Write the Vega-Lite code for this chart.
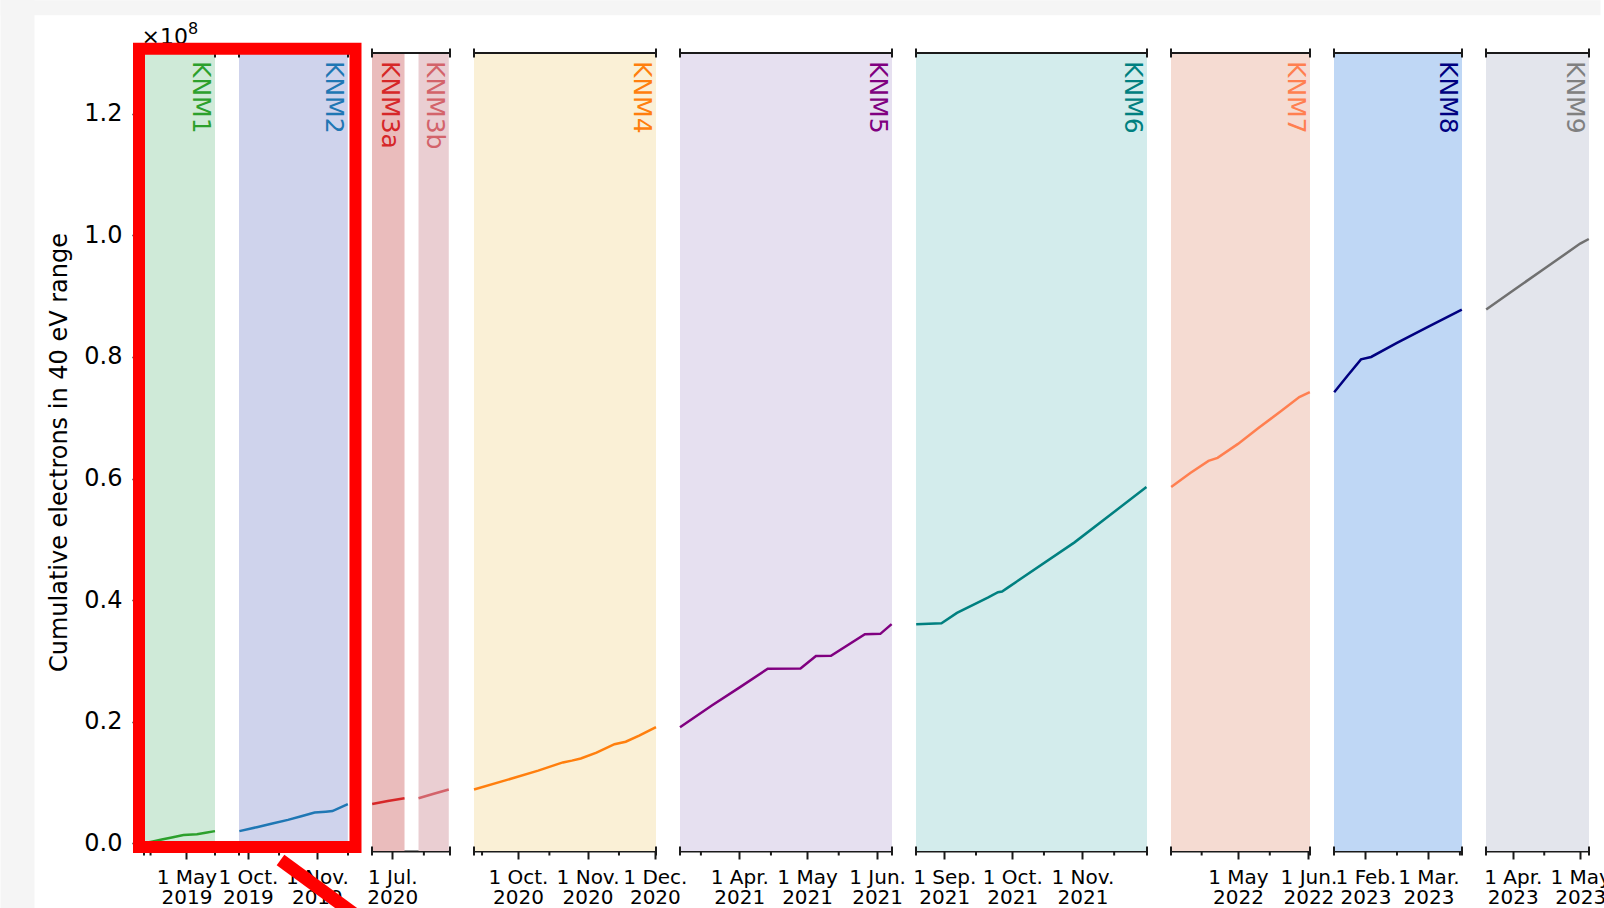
{
"$schema": "https://vega.github.io/schema/vega-lite/v6.json",
"background": "white",
"padding": 0,
"spacing": 24,
"bounds": "flush",
"datasets": {"d": [
{"kind":"shade","panel":"P1","run":"KNM1","t":"2019-04-12T02:00:00","t2":"2019-05-13T17:00:00"},
{"kind":"edge","panel":"P1","t":"2019-04-12T02:00:00"},
{"kind":"edge","panel":"P1","t":"2019-05-13T17:00:00"},
{"kind":"minor","panel":"P1","t":"2019-04-15T00:00:00"},
{"kind":"cum","panel":"P1","run":"KNM1","t":"2019-04-12T02:00:00","n":0},
{"kind":"cum","panel":"P1","run":"KNM1","t":"2019-04-16T00:00:00","n":300000},
{"kind":"cum","panel":"P1","run":"KNM1","t":"2019-04-20T00:00:00","n":620000},
{"kind":"cum","panel":"P1","run":"KNM1","t":"2019-04-25T00:00:00","n":1000000},
{"kind":"cum","panel":"P1","run":"KNM1","t":"2019-04-29T16:00:00","n":1350000},
{"kind":"cum","panel":"P1","run":"KNM1","t":"2019-05-05T16:00:00","n":1480000},
{"kind":"cum","panel":"P1","run":"KNM1","t":"2019-05-09T12:00:00","n":1720000},
{"kind":"cum","panel":"P1","run":"KNM1","t":"2019-05-13T17:00:00","n":2000000},
{"kind":"shade","panel":"P2","run":"KNM2","t":"2019-09-27T00:00:00","t2":"2019-11-14T22:00:00"},
{"kind":"edge","panel":"P2","t":"2019-09-27T00:00:00"},
{"kind":"edge","panel":"P2","t":"2019-11-15T00:00:00"},
{"kind":"minor","panel":"P2","t":"2019-10-15T00:00:00"},
{"kind":"cum","panel":"P2","run":"KNM2","t":"2019-09-27T04:00:00","n":2000000},
{"kind":"cum","panel":"P2","run":"KNM2","t":"2019-10-05T00:00:00","n":2650000},
{"kind":"cum","panel":"P2","run":"KNM2","t":"2019-10-12T00:00:00","n":3250000},
{"kind":"cum","panel":"P2","run":"KNM2","t":"2019-10-19T00:00:00","n":3850000},
{"kind":"cum","panel":"P2","run":"KNM2","t":"2019-10-25T00:00:00","n":4450000},
{"kind":"cum","panel":"P2","run":"KNM2","t":"2019-10-31T00:00:00","n":5050000},
{"kind":"cum","panel":"P2","run":"KNM2","t":"2019-11-05T00:00:00","n":5200000},
{"kind":"cum","panel":"P2","run":"KNM2","t":"2019-11-08T00:00:00","n":5300000},
{"kind":"cum","panel":"P2","run":"KNM2","t":"2019-11-14T22:00:00","n":6450000},
{"kind":"shade","panel":"P3","run":"KNM3a","t":"2020-06-22T00:00:00","t2":"2020-07-06T10:00:00"},
{"kind":"shade","panel":"P3","run":"KNM3b","t":"2020-07-12T15:00:00","t2":"2020-07-26T01:00:00"},
{"kind":"edge","panel":"P3","t":"2020-06-22T00:00:00"},
{"kind":"edge","panel":"P3","t":"2020-07-26T14:00:00"},
{"kind":"minor","panel":"P3","t":"2020-07-15T00:00:00"},
{"kind":"cum","panel":"P3","run":"KNM3a","t":"2020-06-22T02:00:00","n":6450000},
{"kind":"cum","panel":"P3","run":"KNM3a","t":"2020-06-29T00:00:00","n":6950000},
{"kind":"cum","panel":"P3","run":"KNM3a","t":"2020-07-06T10:00:00","n":7400000},
{"kind":"cum","panel":"P3","run":"KNM3b","t":"2020-07-12T15:00:00","n":7400000},
{"kind":"cum","panel":"P3","run":"KNM3b","t":"2020-07-19T00:00:00","n":8100000},
{"kind":"cum","panel":"P3","run":"KNM3b","t":"2020-07-26T01:00:00","n":8850000},
{"kind":"shade","panel":"P4","run":"KNM4","t":"2020-09-11T10:00:00","t2":"2020-12-01T12:00:00"},
{"kind":"edge","panel":"P4","t":"2020-09-11T10:00:00"},
{"kind":"edge","panel":"P4","t":"2020-12-01T12:00:00"},
{"kind":"minor","panel":"P4","t":"2020-09-15T00:00:00"},
{"kind":"minor","panel":"P4","t":"2020-10-15T00:00:00"},
{"kind":"minor","panel":"P4","t":"2020-11-15T00:00:00"},
{"kind":"cum","panel":"P4","run":"KNM4","t":"2020-09-11T10:00:00","n":8850000},
{"kind":"cum","panel":"P4","run":"KNM4","t":"2020-09-25T00:00:00","n":10300000},
{"kind":"cum","panel":"P4","run":"KNM4","t":"2020-10-10T00:00:00","n":11950000},
{"kind":"cum","panel":"P4","run":"KNM4","t":"2020-10-21T00:00:00","n":13300000},
{"kind":"cum","panel":"P4","run":"KNM4","t":"2020-10-25T00:00:00","n":13600000},
{"kind":"cum","panel":"P4","run":"KNM4","t":"2020-10-29T00:00:00","n":13950000},
{"kind":"cum","panel":"P4","run":"KNM4","t":"2020-11-05T00:00:00","n":14900000},
{"kind":"cum","panel":"P4","run":"KNM4","t":"2020-11-13T00:00:00","n":16300000},
{"kind":"cum","panel":"P4","run":"KNM4","t":"2020-11-18T00:00:00","n":16700000},
{"kind":"cum","panel":"P4","run":"KNM4","t":"2020-11-24T00:00:00","n":17700000},
{"kind":"cum","panel":"P4","run":"KNM4","t":"2020-12-01T12:00:00","n":19100000},
{"kind":"shade","panel":"P5","run":"KNM5","t":"2021-03-05T18:00:00","t2":"2021-06-07T14:00:00"},
{"kind":"edge","panel":"P5","t":"2021-03-05T18:00:00"},
{"kind":"edge","panel":"P5","t":"2021-06-07T14:00:00"},
{"kind":"minor","panel":"P5","t":"2021-03-15T00:00:00"},
{"kind":"minor","panel":"P5","t":"2021-04-15T00:00:00"},
{"kind":"minor","panel":"P5","t":"2021-05-15T00:00:00"},
{"kind":"cum","panel":"P5","run":"KNM5","t":"2021-03-05T18:00:00","n":19100000},
{"kind":"cum","panel":"P5","run":"KNM5","t":"2021-03-20T00:00:00","n":22700000},
{"kind":"cum","panel":"P5","run":"KNM5","t":"2021-04-01T00:00:00","n":25600000},
{"kind":"cum","panel":"P5","run":"KNM5","t":"2021-04-13T14:00:00","n":28700000},
{"kind":"cum","panel":"P5","run":"KNM5","t":"2021-04-28T02:00:00","n":28750000},
{"kind":"cum","panel":"P5","run":"KNM5","t":"2021-05-04T22:00:00","n":30800000},
{"kind":"cum","panel":"P5","run":"KNM5","t":"2021-05-11T14:00:00","n":30850000},
{"kind":"cum","panel":"P5","run":"KNM5","t":"2021-05-26T14:00:00","n":34400000},
{"kind":"cum","panel":"P5","run":"KNM5","t":"2021-06-02T10:00:00","n":34450000},
{"kind":"cum","panel":"P5","run":"KNM5","t":"2021-06-07T10:00:00","n":36050000},
{"kind":"shade","panel":"P6","run":"KNM6","t":"2021-08-19T12:00:00","t2":"2021-11-29T12:00:00"},
{"kind":"edge","panel":"P6","t":"2021-08-19T12:00:00"},
{"kind":"edge","panel":"P6","t":"2021-11-29T12:00:00"},
{"kind":"minor","panel":"P6","t":"2021-09-15T00:00:00"},
{"kind":"minor","panel":"P6","t":"2021-10-15T00:00:00"},
{"kind":"minor","panel":"P6","t":"2021-11-15T00:00:00"},
{"kind":"cum","panel":"P6","run":"KNM6","t":"2021-08-19T14:00:00","n":36050000},
{"kind":"cum","panel":"P6","run":"KNM6","t":"2021-08-30T18:00:00","n":36200000},
{"kind":"cum","panel":"P6","run":"KNM6","t":"2021-09-06T14:00:00","n":37900000},
{"kind":"cum","panel":"P6","run":"KNM6","t":"2021-09-20T05:00:00","n":40400000},
{"kind":"cum","panel":"P6","run":"KNM6","t":"2021-09-24T17:00:00","n":41300000},
{"kind":"cum","panel":"P6","run":"KNM6","t":"2021-09-26T12:00:00","n":41400000},
{"kind":"cum","panel":"P6","run":"KNM6","t":"2021-09-29T05:00:00","n":42100000},
{"kind":"cum","panel":"P6","run":"KNM6","t":"2021-10-28T12:00:00","n":49500000},
{"kind":"cum","panel":"P6","run":"KNM6","t":"2021-11-29T06:00:00","n":58600000},
{"kind":"shade","panel":"P7","run":"KNM7","t":"2022-04-01T12:00:00","t2":"2022-06-01T17:00:00"},
{"kind":"edge","panel":"P7","t":"2022-04-01T12:00:00"},
{"kind":"edge","panel":"P7","t":"2022-06-01T17:00:00"},
{"kind":"minor","panel":"P7","t":"2022-04-15T00:00:00"},
{"kind":"minor","panel":"P7","t":"2022-05-15T00:00:00"},
{"kind":"cum","panel":"P7","run":"KNM7","t":"2022-04-01T14:00:00","n":58600000},
{"kind":"cum","panel":"P7","run":"KNM7","t":"2022-04-10T00:00:00","n":60900000},
{"kind":"cum","panel":"P7","run":"KNM7","t":"2022-04-18T00:00:00","n":62900000},
{"kind":"cum","panel":"P7","run":"KNM7","t":"2022-04-22T00:00:00","n":63400000},
{"kind":"cum","panel":"P7","run":"KNM7","t":"2022-05-01T00:00:00","n":65700000},
{"kind":"cum","panel":"P7","run":"KNM7","t":"2022-05-10T00:00:00","n":68300000},
{"kind":"cum","panel":"P7","run":"KNM7","t":"2022-05-20T00:00:00","n":71100000},
{"kind":"cum","panel":"P7","run":"KNM7","t":"2022-05-28T00:00:00","n":73400000},
{"kind":"cum","panel":"P7","run":"KNM7","t":"2022-06-01T15:00:00","n":74200000},
{"kind":"shade","panel":"P8","run":"KNM8","t":"2023-01-18T00:00:00","t2":"2023-03-15T22:00:00"},
{"kind":"edge","panel":"P8","t":"2023-01-18T00:00:00"},
{"kind":"edge","panel":"P8","t":"2023-03-15T22:00:00"},
{"kind":"minor","panel":"P8","t":"2023-02-15T00:00:00"},
{"kind":"minor","panel":"P8","t":"2023-03-15T00:00:00"},
{"kind":"cum","panel":"P8","run":"KNM8","t":"2023-01-18T02:00:00","n":74200000},
{"kind":"cum","panel":"P8","run":"KNM8","t":"2023-01-24T00:00:00","n":76900000},
{"kind":"cum","panel":"P8","run":"KNM8","t":"2023-01-30T00:00:00","n":79600000},
{"kind":"cum","panel":"P8","run":"KNM8","t":"2023-02-03T12:00:00","n":80000000},
{"kind":"cum","panel":"P8","run":"KNM8","t":"2023-02-15T00:00:00","n":82300000},
{"kind":"cum","panel":"P8","run":"KNM8","t":"2023-03-01T00:00:00","n":85000000},
{"kind":"cum","panel":"P8","run":"KNM8","t":"2023-03-15T20:00:00","n":87800000},
{"kind":"shade","panel":"P9","run":"KNM9","t":"2023-03-20T02:00:00","t2":"2023-05-04T22:00:00"},
{"kind":"edge","panel":"P9","t":"2023-03-20T02:00:00"},
{"kind":"edge","panel":"P9","t":"2023-05-04T22:00:00"},
{"kind":"minor","panel":"P9","t":"2023-04-15T00:00:00"},
{"kind":"cum","panel":"P9","run":"KNM9","t":"2023-03-20T04:00:00","n":87800000},
{"kind":"cum","panel":"P9","run":"KNM9","t":"2023-04-01T00:00:00","n":90900000},
{"kind":"cum","panel":"P9","run":"KNM9","t":"2023-04-15T00:00:00","n":94500000},
{"kind":"cum","panel":"P9","run":"KNM9","t":"2023-05-01T00:00:00","n":98650000},
{"kind":"cum","panel":"P9","run":"KNM9","t":"2023-05-04T20:00:00","n":99400000}
]},
"config": {
"font": "DejaVu Sans",
"view": {"stroke": null},
"axisX": {"domainColor": "#1a1a1a", "domainWidth": 2, "tickColor": "#1a1a1a", "tickWidth": 2, "tickSize": 8, "labelFontSize": 20, "labelColor": "#000000", "labelPadding": 8, "labelLineHeight": 20, "labelOverlap": false, "labelBound": false, "labelFlush": false, "labelAngle": 0, "grid": false},
"axisY": {"labelFontSize": 24, "labelColor": "#000000", "titleFontSize": 24, "titleFontWeight": "normal", "titleColor": "#000000", "tickColor": "#000000", "tickWidth": 1.5, "grid": false}
},
"hconcat": [
{
"width": 71, "height": 798,
"data": {"name": "d"},
"transform": [{"filter": "datum.panel == 'P1'"}],
"layer": [
{"data": {"values": [{"panel": "P1"}]}, "mark": {"type": "rect", "color": "#f5f5f5"}, "encoding": {"x": {"datum": {"year":2019,"month":2,"date":7,"hours":3,"minutes":58}, "type": "temporal"}, "x2": {"datum": {"year":2019,"month":2,"date":22,"hours":7,"minutes":25}}, "y": {"datum": 138669000, "type": "quantitative"}, "y2": {"datum": -10646400}}},
{"data": {"values": [{"panel": "P1"}]}, "mark": {"type": "rect", "color": "#f5f5f5"}, "encoding": {"x": {"datum": {"year":2019,"month":2,"date":7,"hours":3,"minutes":58}, "type": "temporal"}, "x2": {"datum": {"year":2021,"month":1,"date":19,"hours":20,"minutes":14}}, "y": {"datum": 138669000, "type": "quantitative"}, "y2": {"datum": 136201600}}},
{"transform": [{"filter": "datum.kind == 'shade'"}], "mark": {"type": "rect", "color": "#cfead8"}, "encoding": {
 "x": {"field": "t", "type": "temporal", "scale": {"domain": [{"year":2019,"month":4,"date":12,"hours":2},{"year":2019,"month":5,"date":13,"hours":17}], "nice": false}, "axis": {"title": null, "values": [{"year":2019,"month":5,"date":1}], "labelExpr": "[timeFormat(datum.value, '%-d ') + (month(datum.value) == 4 ? 'May' : timeFormat(datum.value, '%b') + '.'), timeFormat(datum.value, '%Y')]"}},
 "x2": {"field": "t2"},
 "y": {"datum": 130000000, "type": "quantitative", "scale": {"domain": [-1270000, 130000000], "nice": false, "zero": false}},
 "y2": {"datum": -1270000}}},
{"transform": [{"filter": "datum.kind == 'cum'"}], "mark": {"type": "line", "color": "#2ca02c", "strokeWidth": 2.5}, "encoding": {
 "x": {"field": "t", "type": "temporal", "scale": {"domain": [{"year":2019,"month":4,"date":12,"hours":2},{"year":2019,"month":5,"date":13,"hours":17}], "nice": false}, "axis": {"title": null, "values": [{"year":2019,"month":5,"date":1}], "labelExpr": "[timeFormat(datum.value, '%-d ') + (month(datum.value) == 4 ? 'May' : timeFormat(datum.value, '%b') + '.'), timeFormat(datum.value, '%Y')]"}},
 "y": {"field": "n", "type": "quantitative", "scale": {"domain": [-1270000, 130000000], "nice": false, "zero": false}, "axis": {"title": "Cumulative electrons in 40 eV range", "values": [0,20000000,40000000,60000000,80000000,100000000,120000000], "labelExpr": "format(datum.value / 100000000, '.1f')", "tickSize": 12, "labelPadding": 10, "titlePadding": 12.5, "domain": false}}}},
{"transform": [{"filter": "datum.kind == 'shade'"}], "mark": {"type": "text", "angle": 90, "align": "left", "baseline": "top", "dx": 8, "dy": 2.2, "fontSize": 25, "color": "#2ca02c"}, "encoding": {"x": {"field": "t2", "type": "temporal"}, "y": {"datum": 130000000, "type": "quantitative"}, "text": {"field": "run"}}},
{"transform": [{"filter": "datum.kind == 'edge'"}], "mark": {"type": "line", "color": "#1a1a1a", "strokeWidth": 2}, "encoding": {"x": {"field": "t", "type": "temporal"}, "y": {"datum": 130000000, "type": "quantitative"}}},
{"transform": [{"filter": "datum.kind == 'edge'"}], "mark": {"type": "tick", "orient": "vertical", "size": 9, "thickness": 2, "color": "#1a1a1a", "opacity": 1}, "encoding": {"x": {"field": "t", "type": "temporal"}, "y": {"datum": 130000000, "type": "quantitative"}}},
{"transform": [{"filter": "datum.kind == 'edge'"}], "mark": {"type": "tick", "orient": "vertical", "size": 9, "thickness": 2, "color": "#1a1a1a", "opacity": 1}, "encoding": {"x": {"field": "t", "type": "temporal"}, "y": {"datum": -1270000, "type": "quantitative"}}},
{"transform": [{"filter": "datum.kind == 'minor'"}], "mark": {"type": "tick", "orient": "vertical", "size": 4.5, "thickness": 2, "color": "#1a1a1a", "opacity": 1}, "encoding": {"x": {"field": "t", "type": "temporal"}, "y": {"datum": -1640000, "type": "quantitative"}}},
{"data": {"values": [{"panel": "P1"}]}, "mark": {"type": "text", "align": "left", "baseline": "alphabetic", "dx": -2.5, "dy": -9.4, "fontSize": 22, "color": "#000000"}, "encoding": {"x": {"datum": {"year":2019,"month":4,"date":12,"hours":2}, "type": "temporal"}, "y": {"datum": 130000000, "type": "quantitative"}, "text": {"value": "×10"}}},
{"data": {"values": [{"panel": "P1"}]}, "mark": {"type": "text", "align": "left", "baseline": "alphabetic", "dx": 44, "dy": -19.4, "fontSize": 16, "color": "#000000"}, "encoding": {"x": {"datum": {"year":2019,"month":4,"date":12,"hours":2}, "type": "temporal"}, "y": {"datum": 130000000, "type": "quantitative"}, "text": {"value": "8"}}}
]
},
{
"width": 109, "height": 798,
"data": {"name": "d"},
"transform": [{"filter": "datum.panel == 'P2'"}],
"layer": [
{"transform": [{"filter": "datum.kind == 'shade'"}], "mark": {"type": "rect", "color": "#cfd3ec"}, "encoding": {
 "x": {"field": "t", "type": "temporal", "scale": {"domain": [{"year":2019,"month":9,"date":27},{"year":2019,"month":11,"date":15}], "nice": false}, "axis": {"title": null, "values": [{"year":2019,"month":10,"date":1},{"year":2019,"month":11,"date":1}], "labelExpr": "[timeFormat(datum.value, '%-d ') + (month(datum.value) == 4 ? 'May' : timeFormat(datum.value, '%b') + '.'), timeFormat(datum.value, '%Y')]"}},
 "x2": {"field": "t2"},
 "y": {"datum": 130000000, "type": "quantitative", "scale": {"domain": [-1270000, 130000000], "nice": false, "zero": false}, "axis": null},
 "y2": {"datum": -1270000}}},
{"transform": [{"filter": "datum.kind == 'cum'"}], "mark": {"type": "line", "color": "#1f77b4", "strokeWidth": 2.5}, "encoding": {
 "x": {"field": "t", "type": "temporal", "scale": {"domain": [{"year":2019,"month":9,"date":27},{"year":2019,"month":11,"date":15}], "nice": false}, "axis": {"title": null, "values": [{"year":2019,"month":10,"date":1},{"year":2019,"month":11,"date":1}], "labelExpr": "[timeFormat(datum.value, '%-d ') + (month(datum.value) == 4 ? 'May' : timeFormat(datum.value, '%b') + '.'), timeFormat(datum.value, '%Y')]"}},
 "y": {"field": "n", "type": "quantitative", "scale": {"domain": [-1270000, 130000000], "nice": false, "zero": false}, "axis": null}}},
{"transform": [{"filter": "datum.kind == 'shade'"}], "mark": {"type": "text", "angle": 90, "align": "left", "baseline": "top", "dx": 8, "dy": 2.2, "fontSize": 25, "color": "#1f77b4"}, "encoding": {"x": {"field": "t2", "type": "temporal"}, "y": {"datum": 130000000, "type": "quantitative"}, "text": {"field": "run"}}},
{"transform": [{"filter": "datum.kind == 'edge'"}], "mark": {"type": "line", "color": "#1a1a1a", "strokeWidth": 2}, "encoding": {"x": {"field": "t", "type": "temporal"}, "y": {"datum": 130000000, "type": "quantitative"}}},
{"transform": [{"filter": "datum.kind == 'edge'"}], "mark": {"type": "tick", "orient": "vertical", "size": 9, "thickness": 2, "color": "#1a1a1a", "opacity": 1}, "encoding": {"x": {"field": "t", "type": "temporal"}, "y": {"datum": 130000000, "type": "quantitative"}}},
{"transform": [{"filter": "datum.kind == 'edge'"}], "mark": {"type": "tick", "orient": "vertical", "size": 9, "thickness": 2, "color": "#1a1a1a", "opacity": 1}, "encoding": {"x": {"field": "t", "type": "temporal"}, "y": {"datum": -1270000, "type": "quantitative"}}},
{"transform": [{"filter": "datum.kind == 'minor'"}], "mark": {"type": "tick", "orient": "vertical", "size": 4.5, "thickness": 2, "color": "#1a1a1a", "opacity": 1}, "encoding": {"x": {"field": "t", "type": "temporal"}, "y": {"datum": -1640000, "type": "quantitative"}}}
]
},
{
"width": 78, "height": 798,
"data": {"name": "d"},
"transform": [{"filter": "datum.panel == 'P3'"}],
"layer": [
{"transform": [{"filter": "datum.kind == 'shade'"}], "mark": {"type": "rect"}, "encoding": {
 "x": {"field": "t", "type": "temporal", "scale": {"domain": [{"year":2020,"month":6,"date":22},{"year":2020,"month":7,"date":26,"hours":14}], "nice": false}, "axis": {"title": null, "values": [{"year":2020,"month":7,"date":1}], "labelExpr": "[timeFormat(datum.value, '%-d ') + (month(datum.value) == 4 ? 'May' : timeFormat(datum.value, '%b') + '.'), timeFormat(datum.value, '%Y')]"}},
 "x2": {"field": "t2"},
 "y": {"datum": 130000000, "type": "quantitative", "scale": {"domain": [-1270000, 130000000], "nice": false, "zero": false}, "axis": null},
 "y2": {"datum": -1270000},
 "color": {"field": "run", "type": "nominal", "scale": {"domain": ["KNM3a","KNM3b"], "range": ["#eabcbc","#eaced2"]}, "legend": null}}},
{"transform": [{"filter": "datum.kind == 'cum'"}], "mark": {"type": "line", "strokeWidth": 2.5}, "encoding": {
 "x": {"field": "t", "type": "temporal", "scale": {"domain": [{"year":2020,"month":6,"date":22},{"year":2020,"month":7,"date":26,"hours":14}], "nice": false}, "axis": {"title": null, "values": [{"year":2020,"month":7,"date":1}], "labelExpr": "[timeFormat(datum.value, '%-d ') + (month(datum.value) == 4 ? 'May' : timeFormat(datum.value, '%b') + '.'), timeFormat(datum.value, '%Y')]"}},
 "y": {"field": "n", "type": "quantitative", "scale": {"domain": [-1270000, 130000000], "nice": false, "zero": false}, "axis": null},
 "stroke": {"field": "run", "type": "nominal", "scale": {"domain": ["KNM3a","KNM3b"], "range": ["#d62728","#d3636a"]}, "legend": null}}},
{"transform": [{"filter": "datum.kind == 'shade'"}], "mark": {"type": "text", "angle": 90, "align": "left", "baseline": "top", "dx": 8, "dy": 2.2, "fontSize": 25}, "encoding": {"x": {"field": "t2", "type": "temporal"}, "y": {"datum": 130000000, "type": "quantitative"}, "text": {"field": "run"}, "fill": {"field": "run", "type": "nominal", "scale": {"domain": ["KNM3a","KNM3b"], "range": ["#d62728","#d3636a"]}, "legend": null}}},
{"transform": [{"filter": "datum.kind == 'edge'"}], "mark": {"type": "line", "color": "#1a1a1a", "strokeWidth": 2}, "encoding": {"x": {"field": "t", "type": "temporal"}, "y": {"datum": 130000000, "type": "quantitative"}}},
{"transform": [{"filter": "datum.kind == 'edge'"}], "mark": {"type": "tick", "orient": "vertical", "size": 9, "thickness": 2, "color": "#1a1a1a", "opacity": 1}, "encoding": {"x": {"field": "t", "type": "temporal"}, "y": {"datum": 130000000, "type": "quantitative"}}},
{"transform": [{"filter": "datum.kind == 'edge'"}], "mark": {"type": "tick", "orient": "vertical", "size": 9, "thickness": 2, "color": "#1a1a1a", "opacity": 1}, "encoding": {"x": {"field": "t", "type": "temporal"}, "y": {"datum": -1270000, "type": "quantitative"}}},
{"transform": [{"filter": "datum.kind == 'minor'"}], "mark": {"type": "tick", "orient": "vertical", "size": 4.5, "thickness": 2, "color": "#1a1a1a", "opacity": 1}, "encoding": {"x": {"field": "t", "type": "temporal"}, "y": {"datum": -1640000, "type": "quantitative"}}},
{"data": {"values": [{"panel": "P3"}]}, "mark": {"type": "rect", "fill": "transparent", "stroke": "#ff0000", "strokeWidth": 12}, "encoding": {"x": {"datum": {"year":2020,"month":3,"date":10,"hours":16,"minutes":38}, "type": "temporal"}, "x2": {"datum": {"year":2020,"month":6,"date":14,"hours":16,"minutes":25}}, "y": {"datum": 130690900, "type": "quantitative"}, "y2": {"datum": -612000}}},
{"data": {"values": [{"panel": "P3"}]}, "mark": {"type": "rule", "color": "#ff0000", "strokeWidth": 13, "strokeCap": "butt"}, "encoding": {"x": {"datum": {"year":2020,"month":5,"date":12,"hours":10,"minutes":20}, "type": "temporal"}, "x2": {"datum": {"year":2020,"month":6,"date":17,"hours":18,"minutes":55}}, "y": {"datum": -2750500, "type": "quantitative"}, "y2": {"datum": -12604000}}}
]
},
{
"width": 182, "height": 798,
"data": {"name": "d"},
"transform": [{"filter": "datum.panel == 'P4'"}],
"layer": [
{"transform": [{"filter": "datum.kind == 'shade'"}], "mark": {"type": "rect", "color": "#faf0d6"}, "encoding": {
 "x": {"field": "t", "type": "temporal", "scale": {"domain": [{"year":2020,"month":9,"date":11,"hours":10},{"year":2020,"month":12,"date":1,"hours":12}], "nice": false}, "axis": {"title": null, "values": [{"year":2020,"month":10,"date":1},{"year":2020,"month":11,"date":1},{"year":2020,"month":12,"date":1}], "labelExpr": "[timeFormat(datum.value, '%-d ') + (month(datum.value) == 4 ? 'May' : timeFormat(datum.value, '%b') + '.'), timeFormat(datum.value, '%Y')]"}},
 "x2": {"field": "t2"},
 "y": {"datum": 130000000, "type": "quantitative", "scale": {"domain": [-1270000, 130000000], "nice": false, "zero": false}, "axis": null},
 "y2": {"datum": -1270000}}},
{"transform": [{"filter": "datum.kind == 'cum'"}], "mark": {"type": "line", "color": "#ff7f0e", "strokeWidth": 2.5}, "encoding": {
 "x": {"field": "t", "type": "temporal", "scale": {"domain": [{"year":2020,"month":9,"date":11,"hours":10},{"year":2020,"month":12,"date":1,"hours":12}], "nice": false}, "axis": {"title": null, "values": [{"year":2020,"month":10,"date":1},{"year":2020,"month":11,"date":1},{"year":2020,"month":12,"date":1}], "labelExpr": "[timeFormat(datum.value, '%-d ') + (month(datum.value) == 4 ? 'May' : timeFormat(datum.value, '%b') + '.'), timeFormat(datum.value, '%Y')]"}},
 "y": {"field": "n", "type": "quantitative", "scale": {"domain": [-1270000, 130000000], "nice": false, "zero": false}, "axis": null}}},
{"transform": [{"filter": "datum.kind == 'shade'"}], "mark": {"type": "text", "angle": 90, "align": "left", "baseline": "top", "dx": 8, "dy": 2.2, "fontSize": 25, "color": "#ff7f0e"}, "encoding": {"x": {"field": "t2", "type": "temporal"}, "y": {"datum": 130000000, "type": "quantitative"}, "text": {"field": "run"}}},
{"transform": [{"filter": "datum.kind == 'edge'"}], "mark": {"type": "line", "color": "#1a1a1a", "strokeWidth": 2}, "encoding": {"x": {"field": "t", "type": "temporal"}, "y": {"datum": 130000000, "type": "quantitative"}}},
{"transform": [{"filter": "datum.kind == 'edge'"}], "mark": {"type": "tick", "orient": "vertical", "size": 9, "thickness": 2, "color": "#1a1a1a", "opacity": 1}, "encoding": {"x": {"field": "t", "type": "temporal"}, "y": {"datum": 130000000, "type": "quantitative"}}},
{"transform": [{"filter": "datum.kind == 'edge'"}], "mark": {"type": "tick", "orient": "vertical", "size": 9, "thickness": 2, "color": "#1a1a1a", "opacity": 1}, "encoding": {"x": {"field": "t", "type": "temporal"}, "y": {"datum": -1270000, "type": "quantitative"}}},
{"transform": [{"filter": "datum.kind == 'minor'"}], "mark": {"type": "tick", "orient": "vertical", "size": 4.5, "thickness": 2, "color": "#1a1a1a", "opacity": 1}, "encoding": {"x": {"field": "t", "type": "temporal"}, "y": {"datum": -1640000, "type": "quantitative"}}}
]
},
{
"width": 212, "height": 798,
"data": {"name": "d"},
"transform": [{"filter": "datum.panel == 'P5'"}],
"layer": [
{"transform": [{"filter": "datum.kind == 'shade'"}], "mark": {"type": "rect", "color": "#e6e0f0"}, "encoding": {
 "x": {"field": "t", "type": "temporal", "scale": {"domain": [{"year":2021,"month":3,"date":5,"hours":18},{"year":2021,"month":6,"date":7,"hours":14}], "nice": false}, "axis": {"title": null, "values": [{"year":2021,"month":4,"date":1},{"year":2021,"month":5,"date":1},{"year":2021,"month":6,"date":1}], "labelExpr": "[timeFormat(datum.value, '%-d ') + (month(datum.value) == 4 ? 'May' : timeFormat(datum.value, '%b') + '.'), timeFormat(datum.value, '%Y')]"}},
 "x2": {"field": "t2"},
 "y": {"datum": 130000000, "type": "quantitative", "scale": {"domain": [-1270000, 130000000], "nice": false, "zero": false}, "axis": null},
 "y2": {"datum": -1270000}}},
{"transform": [{"filter": "datum.kind == 'cum'"}], "mark": {"type": "line", "color": "#800080", "strokeWidth": 2.5}, "encoding": {
 "x": {"field": "t", "type": "temporal", "scale": {"domain": [{"year":2021,"month":3,"date":5,"hours":18},{"year":2021,"month":6,"date":7,"hours":14}], "nice": false}, "axis": {"title": null, "values": [{"year":2021,"month":4,"date":1},{"year":2021,"month":5,"date":1},{"year":2021,"month":6,"date":1}], "labelExpr": "[timeFormat(datum.value, '%-d ') + (month(datum.value) == 4 ? 'May' : timeFormat(datum.value, '%b') + '.'), timeFormat(datum.value, '%Y')]"}},
 "y": {"field": "n", "type": "quantitative", "scale": {"domain": [-1270000, 130000000], "nice": false, "zero": false}, "axis": null}}},
{"transform": [{"filter": "datum.kind == 'shade'"}], "mark": {"type": "text", "angle": 90, "align": "left", "baseline": "top", "dx": 8, "dy": 2.2, "fontSize": 25, "color": "#800080"}, "encoding": {"x": {"field": "t2", "type": "temporal"}, "y": {"datum": 130000000, "type": "quantitative"}, "text": {"field": "run"}}},
{"transform": [{"filter": "datum.kind == 'edge'"}], "mark": {"type": "line", "color": "#1a1a1a", "strokeWidth": 2}, "encoding": {"x": {"field": "t", "type": "temporal"}, "y": {"datum": 130000000, "type": "quantitative"}}},
{"transform": [{"filter": "datum.kind == 'edge'"}], "mark": {"type": "tick", "orient": "vertical", "size": 9, "thickness": 2, "color": "#1a1a1a", "opacity": 1}, "encoding": {"x": {"field": "t", "type": "temporal"}, "y": {"datum": 130000000, "type": "quantitative"}}},
{"transform": [{"filter": "datum.kind == 'edge'"}], "mark": {"type": "tick", "orient": "vertical", "size": 9, "thickness": 2, "color": "#1a1a1a", "opacity": 1}, "encoding": {"x": {"field": "t", "type": "temporal"}, "y": {"datum": -1270000, "type": "quantitative"}}},
{"transform": [{"filter": "datum.kind == 'minor'"}], "mark": {"type": "tick", "orient": "vertical", "size": 4.5, "thickness": 2, "color": "#1a1a1a", "opacity": 1}, "encoding": {"x": {"field": "t", "type": "temporal"}, "y": {"datum": -1640000, "type": "quantitative"}}}
]
},
{
"width": 231, "height": 798,
"data": {"name": "d"},
"transform": [{"filter": "datum.panel == 'P6'"}],
"layer": [
{"transform": [{"filter": "datum.kind == 'shade'"}], "mark": {"type": "rect", "color": "#d3ecec"}, "encoding": {
 "x": {"field": "t", "type": "temporal", "scale": {"domain": [{"year":2021,"month":8,"date":19,"hours":12},{"year":2021,"month":11,"date":29,"hours":12}], "nice": false}, "axis": {"title": null, "values": [{"year":2021,"month":9,"date":1},{"year":2021,"month":10,"date":1},{"year":2021,"month":11,"date":1}], "labelExpr": "[timeFormat(datum.value, '%-d ') + (month(datum.value) == 4 ? 'May' : timeFormat(datum.value, '%b') + '.'), timeFormat(datum.value, '%Y')]"}},
 "x2": {"field": "t2"},
 "y": {"datum": 130000000, "type": "quantitative", "scale": {"domain": [-1270000, 130000000], "nice": false, "zero": false}, "axis": null},
 "y2": {"datum": -1270000}}},
{"transform": [{"filter": "datum.kind == 'cum'"}], "mark": {"type": "line", "color": "#008080", "strokeWidth": 2.5}, "encoding": {
 "x": {"field": "t", "type": "temporal", "scale": {"domain": [{"year":2021,"month":8,"date":19,"hours":12},{"year":2021,"month":11,"date":29,"hours":12}], "nice": false}, "axis": {"title": null, "values": [{"year":2021,"month":9,"date":1},{"year":2021,"month":10,"date":1},{"year":2021,"month":11,"date":1}], "labelExpr": "[timeFormat(datum.value, '%-d ') + (month(datum.value) == 4 ? 'May' : timeFormat(datum.value, '%b') + '.'), timeFormat(datum.value, '%Y')]"}},
 "y": {"field": "n", "type": "quantitative", "scale": {"domain": [-1270000, 130000000], "nice": false, "zero": false}, "axis": null}}},
{"transform": [{"filter": "datum.kind == 'shade'"}], "mark": {"type": "text", "angle": 90, "align": "left", "baseline": "top", "dx": 8, "dy": 2.2, "fontSize": 25, "color": "#008080"}, "encoding": {"x": {"field": "t2", "type": "temporal"}, "y": {"datum": 130000000, "type": "quantitative"}, "text": {"field": "run"}}},
{"transform": [{"filter": "datum.kind == 'edge'"}], "mark": {"type": "line", "color": "#1a1a1a", "strokeWidth": 2}, "encoding": {"x": {"field": "t", "type": "temporal"}, "y": {"datum": 130000000, "type": "quantitative"}}},
{"transform": [{"filter": "datum.kind == 'edge'"}], "mark": {"type": "tick", "orient": "vertical", "size": 9, "thickness": 2, "color": "#1a1a1a", "opacity": 1}, "encoding": {"x": {"field": "t", "type": "temporal"}, "y": {"datum": 130000000, "type": "quantitative"}}},
{"transform": [{"filter": "datum.kind == 'edge'"}], "mark": {"type": "tick", "orient": "vertical", "size": 9, "thickness": 2, "color": "#1a1a1a", "opacity": 1}, "encoding": {"x": {"field": "t", "type": "temporal"}, "y": {"datum": -1270000, "type": "quantitative"}}},
{"transform": [{"filter": "datum.kind == 'minor'"}], "mark": {"type": "tick", "orient": "vertical", "size": 4.5, "thickness": 2, "color": "#1a1a1a", "opacity": 1}, "encoding": {"x": {"field": "t", "type": "temporal"}, "y": {"datum": -1640000, "type": "quantitative"}}}
]
},
{
"width": 139, "height": 798,
"data": {"name": "d"},
"transform": [{"filter": "datum.panel == 'P7'"}],
"layer": [
{"transform": [{"filter": "datum.kind == 'shade'"}], "mark": {"type": "rect", "color": "#f5dbd2"}, "encoding": {
 "x": {"field": "t", "type": "temporal", "scale": {"domain": [{"year":2022,"month":4,"date":1,"hours":12},{"year":2022,"month":6,"date":1,"hours":17}], "nice": false}, "axis": {"title": null, "values": [{"year":2022,"month":5,"date":1},{"year":2022,"month":6,"date":1}], "labelExpr": "[timeFormat(datum.value, '%-d ') + (month(datum.value) == 4 ? 'May' : timeFormat(datum.value, '%b') + '.'), timeFormat(datum.value, '%Y')]"}},
 "x2": {"field": "t2"},
 "y": {"datum": 130000000, "type": "quantitative", "scale": {"domain": [-1270000, 130000000], "nice": false, "zero": false}, "axis": null},
 "y2": {"datum": -1270000}}},
{"transform": [{"filter": "datum.kind == 'cum'"}], "mark": {"type": "line", "color": "#ff7f50", "strokeWidth": 2.5}, "encoding": {
 "x": {"field": "t", "type": "temporal", "scale": {"domain": [{"year":2022,"month":4,"date":1,"hours":12},{"year":2022,"month":6,"date":1,"hours":17}], "nice": false}, "axis": {"title": null, "values": [{"year":2022,"month":5,"date":1},{"year":2022,"month":6,"date":1}], "labelExpr": "[timeFormat(datum.value, '%-d ') + (month(datum.value) == 4 ? 'May' : timeFormat(datum.value, '%b') + '.'), timeFormat(datum.value, '%Y')]"}},
 "y": {"field": "n", "type": "quantitative", "scale": {"domain": [-1270000, 130000000], "nice": false, "zero": false}, "axis": null}}},
{"transform": [{"filter": "datum.kind == 'shade'"}], "mark": {"type": "text", "angle": 90, "align": "left", "baseline": "top", "dx": 8, "dy": 2.2, "fontSize": 25, "color": "#ff7f50"}, "encoding": {"x": {"field": "t2", "type": "temporal"}, "y": {"datum": 130000000, "type": "quantitative"}, "text": {"field": "run"}}},
{"transform": [{"filter": "datum.kind == 'edge'"}], "mark": {"type": "line", "color": "#1a1a1a", "strokeWidth": 2}, "encoding": {"x": {"field": "t", "type": "temporal"}, "y": {"datum": 130000000, "type": "quantitative"}}},
{"transform": [{"filter": "datum.kind == 'edge'"}], "mark": {"type": "tick", "orient": "vertical", "size": 9, "thickness": 2, "color": "#1a1a1a", "opacity": 1}, "encoding": {"x": {"field": "t", "type": "temporal"}, "y": {"datum": 130000000, "type": "quantitative"}}},
{"transform": [{"filter": "datum.kind == 'edge'"}], "mark": {"type": "tick", "orient": "vertical", "size": 9, "thickness": 2, "color": "#1a1a1a", "opacity": 1}, "encoding": {"x": {"field": "t", "type": "temporal"}, "y": {"datum": -1270000, "type": "quantitative"}}},
{"transform": [{"filter": "datum.kind == 'minor'"}], "mark": {"type": "tick", "orient": "vertical", "size": 4.5, "thickness": 2, "color": "#1a1a1a", "opacity": 1}, "encoding": {"x": {"field": "t", "type": "temporal"}, "y": {"datum": -1640000, "type": "quantitative"}}}
]
},
{
"width": 128, "height": 798,
"data": {"name": "d"},
"transform": [{"filter": "datum.panel == 'P8'"}],
"layer": [
{"transform": [{"filter": "datum.kind == 'shade'"}], "mark": {"type": "rect", "color": "#bfd7f5"}, "encoding": {
 "x": {"field": "t", "type": "temporal", "scale": {"domain": [{"year":2023,"month":1,"date":18},{"year":2023,"month":3,"date":15,"hours":22}], "nice": false}, "axis": {"title": null, "values": [{"year":2023,"month":2,"date":1},{"year":2023,"month":3,"date":1}], "labelExpr": "[timeFormat(datum.value, '%-d ') + (month(datum.value) == 4 ? 'May' : timeFormat(datum.value, '%b') + '.'), timeFormat(datum.value, '%Y')]"}},
 "x2": {"field": "t2"},
 "y": {"datum": 130000000, "type": "quantitative", "scale": {"domain": [-1270000, 130000000], "nice": false, "zero": false}, "axis": null},
 "y2": {"datum": -1270000}}},
{"transform": [{"filter": "datum.kind == 'cum'"}], "mark": {"type": "line", "color": "#000080", "strokeWidth": 2.5}, "encoding": {
 "x": {"field": "t", "type": "temporal", "scale": {"domain": [{"year":2023,"month":1,"date":18},{"year":2023,"month":3,"date":15,"hours":22}], "nice": false}, "axis": {"title": null, "values": [{"year":2023,"month":2,"date":1},{"year":2023,"month":3,"date":1}], "labelExpr": "[timeFormat(datum.value, '%-d ') + (month(datum.value) == 4 ? 'May' : timeFormat(datum.value, '%b') + '.'), timeFormat(datum.value, '%Y')]"}},
 "y": {"field": "n", "type": "quantitative", "scale": {"domain": [-1270000, 130000000], "nice": false, "zero": false}, "axis": null}}},
{"transform": [{"filter": "datum.kind == 'shade'"}], "mark": {"type": "text", "angle": 90, "align": "left", "baseline": "top", "dx": 8, "dy": 2.2, "fontSize": 25, "color": "#000080"}, "encoding": {"x": {"field": "t2", "type": "temporal"}, "y": {"datum": 130000000, "type": "quantitative"}, "text": {"field": "run"}}},
{"transform": [{"filter": "datum.kind == 'edge'"}], "mark": {"type": "line", "color": "#1a1a1a", "strokeWidth": 2}, "encoding": {"x": {"field": "t", "type": "temporal"}, "y": {"datum": 130000000, "type": "quantitative"}}},
{"transform": [{"filter": "datum.kind == 'edge'"}], "mark": {"type": "tick", "orient": "vertical", "size": 9, "thickness": 2, "color": "#1a1a1a", "opacity": 1}, "encoding": {"x": {"field": "t", "type": "temporal"}, "y": {"datum": 130000000, "type": "quantitative"}}},
{"transform": [{"filter": "datum.kind == 'edge'"}], "mark": {"type": "tick", "orient": "vertical", "size": 9, "thickness": 2, "color": "#1a1a1a", "opacity": 1}, "encoding": {"x": {"field": "t", "type": "temporal"}, "y": {"datum": -1270000, "type": "quantitative"}}},
{"transform": [{"filter": "datum.kind == 'minor'"}], "mark": {"type": "tick", "orient": "vertical", "size": 4.5, "thickness": 2, "color": "#1a1a1a", "opacity": 1}, "encoding": {"x": {"field": "t", "type": "temporal"}, "y": {"datum": -1640000, "type": "quantitative"}}}
]
},
{
"width": 103, "height": 798,
"data": {"name": "d"},
"transform": [{"filter": "datum.panel == 'P9'"}],
"layer": [
{"transform": [{"filter": "datum.kind == 'shade'"}], "mark": {"type": "rect", "color": "#e3e5ec"}, "encoding": {
 "x": {"field": "t", "type": "temporal", "scale": {"domain": [{"year":2023,"month":3,"date":20,"hours":2},{"year":2023,"month":5,"date":4,"hours":22}], "nice": false}, "axis": {"title": null, "values": [{"year":2023,"month":4,"date":1},{"year":2023,"month":5,"date":1}], "labelExpr": "[timeFormat(datum.value, '%-d ') + (month(datum.value) == 4 ? 'May' : timeFormat(datum.value, '%b') + '.'), timeFormat(datum.value, '%Y')]"}},
 "x2": {"field": "t2"},
 "y": {"datum": 130000000, "type": "quantitative", "scale": {"domain": [-1270000, 130000000], "nice": false, "zero": false}, "axis": null},
 "y2": {"datum": -1270000}}},
{"transform": [{"filter": "datum.kind == 'cum'"}], "mark": {"type": "line", "color": "#707070", "strokeWidth": 2.5}, "encoding": {
 "x": {"field": "t", "type": "temporal", "scale": {"domain": [{"year":2023,"month":3,"date":20,"hours":2},{"year":2023,"month":5,"date":4,"hours":22}], "nice": false}, "axis": {"title": null, "values": [{"year":2023,"month":4,"date":1},{"year":2023,"month":5,"date":1}], "labelExpr": "[timeFormat(datum.value, '%-d ') + (month(datum.value) == 4 ? 'May' : timeFormat(datum.value, '%b') + '.'), timeFormat(datum.value, '%Y')]"}},
 "y": {"field": "n", "type": "quantitative", "scale": {"domain": [-1270000, 130000000], "nice": false, "zero": false}, "axis": null}}},
{"transform": [{"filter": "datum.kind == 'shade'"}], "mark": {"type": "text", "angle": 90, "align": "left", "baseline": "top", "dx": 8, "dy": 2.2, "fontSize": 25, "color": "#808080"}, "encoding": {"x": {"field": "t2", "type": "temporal"}, "y": {"datum": 130000000, "type": "quantitative"}, "text": {"field": "run"}}},
{"transform": [{"filter": "datum.kind == 'edge'"}], "mark": {"type": "line", "color": "#1a1a1a", "strokeWidth": 2}, "encoding": {"x": {"field": "t", "type": "temporal"}, "y": {"datum": 130000000, "type": "quantitative"}}},
{"transform": [{"filter": "datum.kind == 'edge'"}], "mark": {"type": "tick", "orient": "vertical", "size": 9, "thickness": 2, "color": "#1a1a1a", "opacity": 1}, "encoding": {"x": {"field": "t", "type": "temporal"}, "y": {"datum": 130000000, "type": "quantitative"}}},
{"transform": [{"filter": "datum.kind == 'edge'"}], "mark": {"type": "tick", "orient": "vertical", "size": 9, "thickness": 2, "color": "#1a1a1a", "opacity": 1}, "encoding": {"x": {"field": "t", "type": "temporal"}, "y": {"datum": -1270000, "type": "quantitative"}}},
{"transform": [{"filter": "datum.kind == 'minor'"}], "mark": {"type": "tick", "orient": "vertical", "size": 4.5, "thickness": 2, "color": "#1a1a1a", "opacity": 1}, "encoding": {"x": {"field": "t", "type": "temporal"}, "y": {"datum": -1640000, "type": "quantitative"}}}
]
}
]
}
